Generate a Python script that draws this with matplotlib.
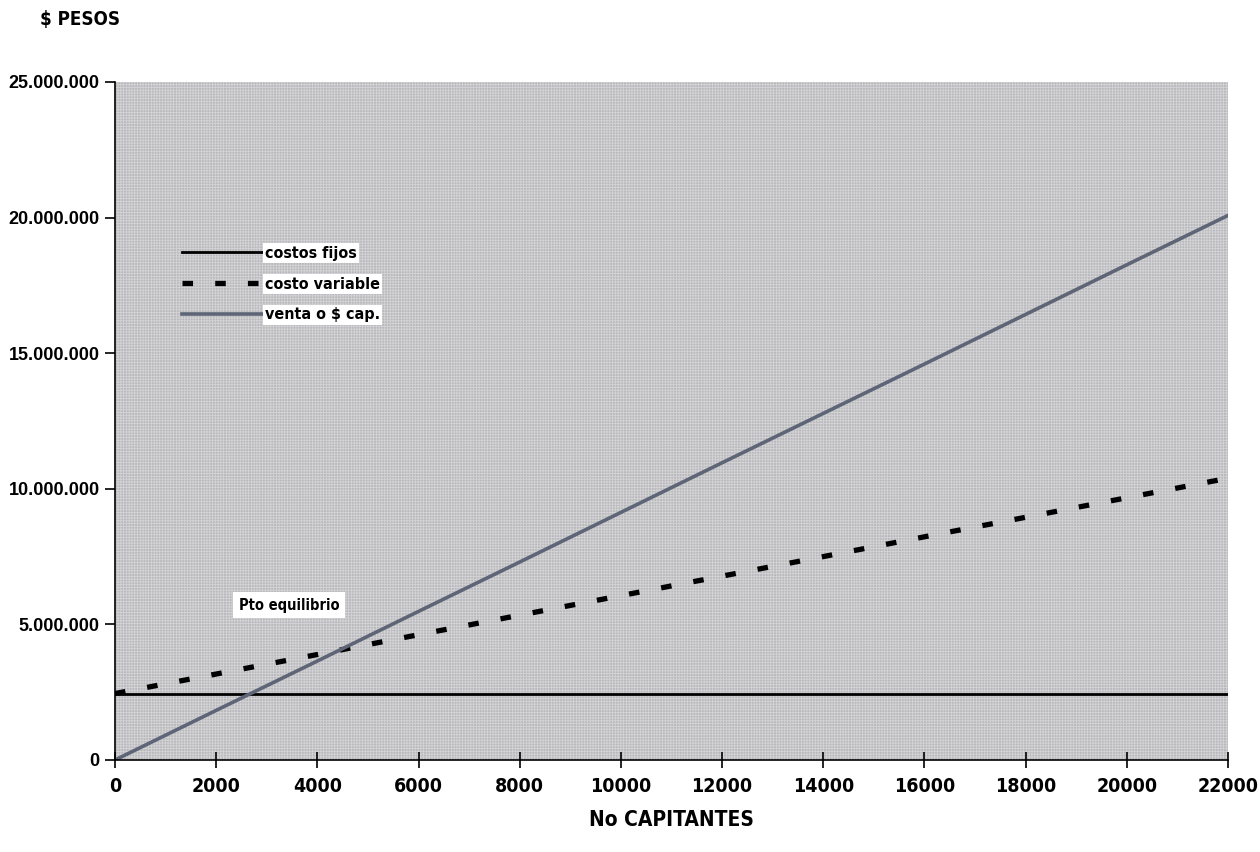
import matplotlib
matplotlib.use("Agg")
import matplotlib.pyplot as plt
from matplotlib.patches import Rectangle
from matplotlib.ticker import FuncFormatter

# numero de capitantes
capitantes = [0, 2000, 4000, 6000, 8000, 10000, 12000, 14000, 16000, 18000, 20000, 22000]
# pesos
costos_fijos = [2450000] * 12
costo_variable = [2450000, 3170000, 3890000, 4620000, 5340000, 6060000,
                  6780000, 7500000, 8230000, 8950000, 9670000, 10390000]
venta = [0, 1830000, 3650000, 5480000, 7300000, 9130000,
         10960000, 12780000, 14600000, 16430000, 18260000, 20080000]

x_ticks = list(range(0, 22001, 2000))
y_ticks = [0, 5000000, 10000000, 15000000, 20000000, 25000000]

plt.rcParams["font.family"] = ["Liberation Sans", "DejaVu Sans"]
plt.rcParams["hatch.linewidth"] = 0.6
# letra angosta para ejes y leyenda
narrow = dict(family="DejaVu Sans", fontstretch="condensed", fontweight="bold")

fig = plt.figure(figsize=(12.6, 8.52), dpi=100)
ax = fig.add_axes([115 / 1260, 92 / 852, 1113 / 1260, 678 / 852])
ax.set_facecolor("#b9b9bd")
# trama punteada del fondo
ax.add_patch(Rectangle((0, 0), 1, 1, transform=ax.transAxes, facecolor="none",
                       edgecolor="#d4d4d6", hatch="++++++", lw=0, zorder=0.5))

ax.plot(capitantes, costos_fijos, color="black", lw=2.0, label="costos fijos")
ax.plot(capitantes, costo_variable, color="black", lw=3.8, dashes=(2, 4.2),
        dash_capstyle="butt", label="costo variable")
ax.plot(capitantes, venta, color="#5d6576", lw=2.6, label="venta o $ cap.")

ax.set_xlim(0, 22000)
ax.set_ylim(0, 25000000)
ax.set_xticks(x_ticks)
ax.set_yticks(y_ticks)
ax.yaxis.set_major_formatter(FuncFormatter(lambda v, p: f"{int(v):,}".replace(",", ".")))

for s in ("top", "right"):
    ax.spines[s].set_visible(False)
for s in ("left", "bottom"):
    ax.spines[s].set_linewidth(1.2)

ax.tick_params(axis="y", direction="out", length=7, width=1.2, pad=4, labelsize=13)
ax.tick_params(axis="x", direction="inout", length=12, width=1.2, pad=6, labelsize=14)
for lbl in ax.get_yticklabels():
    lbl.set_fontweight("bold")
for lbl in ax.get_xticklabels():
    lbl.set_fontfamily("DejaVu Sans")
    lbl.set_fontstretch("condensed")
    lbl.set_fontweight("bold")

ax.set_xlabel("No CAPITANTES", fontsize=15, labelpad=10, **narrow)
fig.text(40 / 1260, 1 - 19 / 852, "$ PESOS", fontsize=13.5, va="center", ha="left", **narrow)

leg = ax.legend(loc="upper left", bbox_to_anchor=(0.047, 0.78), frameon=False,
                handlelength=5.2, handletextpad=0.0, labelspacing=1.0,
                prop={"family": "DejaVu Sans", "stretch": "condensed",
                      "weight": "bold", "size": 11.5})
for t in leg.get_texts():
    t.set_bbox(dict(facecolor="white", edgecolor="none", pad=1.5))

ax.text(2450, 5700000, "Pto equilibrio", fontsize=10.5, va="center", ha="left",
        bbox=dict(facecolor="white", edgecolor="none", pad=4), **narrow)

fig.savefig("out.png", dpi=100, facecolor="white")
